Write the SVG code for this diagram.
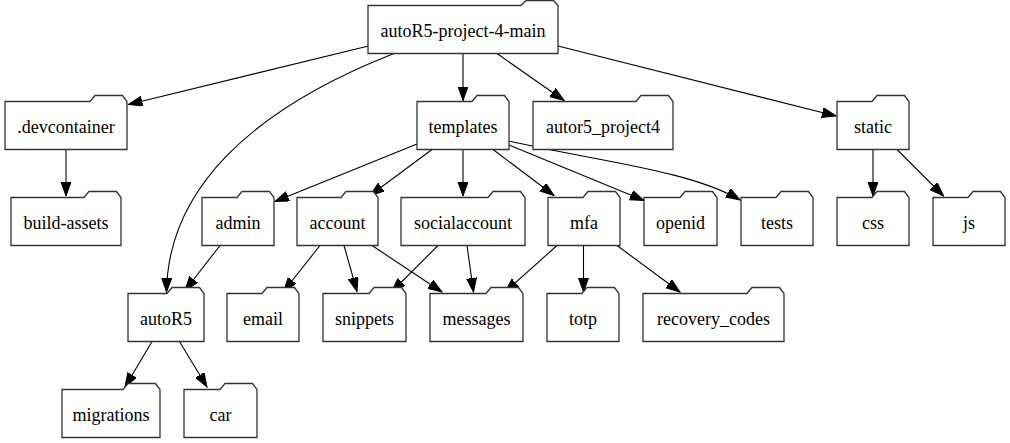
<svg xmlns="http://www.w3.org/2000/svg" width="1010" height="443" viewBox="0 0 1010 443" font-family="'Liberation Serif', 'DejaVu Serif', serif">
<style>
.n path{fill:#fff;stroke:#333;stroke-width:1.3}
.n text{font-family:'Liberation Serif','Times New Roman',Times,serif;font-size:18px;fill:#000;text-anchor:middle}
#edges path{fill:none;stroke:#000;stroke-width:1.1;marker-end:url(#ah)}
</style>
<defs>
<marker id="ah" markerUnits="userSpaceOnUse" markerWidth="15" markerHeight="11" refX="14" refY="5" orient="auto" viewBox="0 0 15 11">
<path d="M0,0 L14,5 L0,10 Z" fill="#000" stroke="#000" stroke-width="1"/>
</marker>
</defs>
<rect width="1010" height="443" fill="#fff"/>
<g id="edges">
<path d="M368.5,46 L128.5,104.5"/>
<path d="M394,53.5 C250,110 168,190 166.5,292"/>
<path d="M463,53.5 L463,100.5"/>
<path d="M497,53.5 L564,100.5"/>
<path d="M558,46 L836,116"/>
<path d="M66,149.5 L66,196"/>
<path d="M417,144 L275,201.5"/>
<path d="M432,149.5 L370,195.5"/>
<path d="M463,149.5 L463,196"/>
<path d="M493,149.5 L554,195.5"/>
<path d="M509,145 L644,200.5"/>
<path d="M509,141 C590,160 690,170 740,200"/>
<path d="M220,245.5 L185,290.5"/>
<path d="M320,245.5 L283.5,291.5"/>
<path d="M344,245.5 L357,291.5"/>
<path d="M372,245.5 L442,292"/>
<path d="M438,245.5 L391.5,292"/>
<path d="M467,245.5 L473.5,292"/>
<path d="M557,245.5 L505,292"/>
<path d="M583.5,245.5 L583.5,292"/>
<path d="M617,245.5 L680,292"/>
<path d="M873,149.5 L873,196"/>
<path d="M897,149.5 L943.5,196"/>
<path d="M152,341.5 L125,387"/>
<path d="M179.5,341.5 L207,387"/>
</g>
<g id="root" class="n"><path d="M368,5.5 L521,5.5 L526,0.5 L553.5,0.5 L558,5.5 L558,53.5 L368,53.5 Z"/><text x="463" y="37">autoR5-project-4-main</text></g>
<g id="devcontainer" class="n"><path d="M5,101.5 L90,101.5 L95,95.5 L122.5,95.5 L127,101.5 L127,149.5 L5,149.5 Z"/><text x="66" y="133">.devcontainer</text></g>
<g id="templates" class="n"><path d="M417,101.5 L472,101.5 L477,95.5 L504.5,95.5 L509,101.5 L509,149.5 L417,149.5 Z"/><text x="463" y="133">templates</text></g>
<g id="autor5_project4" class="n"><path d="M533,101.5 L636,101.5 L641,95.5 L668.5,95.5 L673,101.5 L673,149.5 L533,149.5 Z"/><text x="603" y="133">autor5_project4</text></g>
<g id="static" class="n"><path d="M837,101.5 L872,101.5 L877,95.5 L904.5,95.5 L909,101.5 L909,149.5 L837,149.5 Z"/><text x="873" y="133">static</text></g>
<g id="build-assets" class="n"><path d="M11,197.5 L84,197.5 L89,191.5 L116.5,191.5 L121,197.5 L121,245.5 L11,245.5 Z"/><text x="66" y="229">build-assets</text></g>
<g id="admin" class="n"><path d="M202,197.5 L237,197.5 L242,191.5 L269.5,191.5 L274,197.5 L274,245.5 L202,245.5 Z"/><text x="238" y="229">admin</text></g>
<g id="account" class="n"><path d="M297,197.5 L341,197.5 L346,191.5 L373.5,191.5 L378,197.5 L378,245.5 L297,245.5 Z"/><text x="337.5" y="229">account</text></g>
<g id="socialaccount" class="n"><path d="M401,197.5 L488,197.5 L493,191.5 L520.5,191.5 L525,197.5 L525,245.5 L401,245.5 Z"/><text x="463" y="229">socialaccount</text></g>
<g id="mfa" class="n"><path d="M548,197.5 L583,197.5 L588,191.5 L615.5,191.5 L620,197.5 L620,245.5 L548,245.5 Z"/><text x="584" y="229">mfa</text></g>
<g id="openid" class="n"><path d="M644,197.5 L680,197.5 L685,191.5 L712.5,191.5 L717,197.5 L717,245.5 L644,245.5 Z"/><text x="680.5" y="229">openid</text></g>
<g id="tests" class="n"><path d="M741,197.5 L776,197.5 L781,191.5 L808.5,191.5 L813,197.5 L813,245.5 L741,245.5 Z"/><text x="777" y="229">tests</text></g>
<g id="css" class="n"><path d="M837,197.5 L872,197.5 L877,191.5 L904.5,191.5 L909,197.5 L909,245.5 L837,245.5 Z"/><text x="873" y="229">css</text></g>
<g id="js" class="n"><path d="M933,197.5 L968,197.5 L973,191.5 L1000.5,191.5 L1005,197.5 L1005,245.5 L933,245.5 Z"/><text x="969" y="229">js</text></g>
<g id="autoR5" class="n"><path d="M128,293.5 L167,293.5 L172,287.5 L199.5,287.5 L204,293.5 L204,341.5 L128,341.5 Z"/><text x="166" y="325">autoR5</text></g>
<g id="email" class="n"><path d="M227,293.5 L262,293.5 L267,287.5 L294.5,287.5 L299,293.5 L299,341.5 L227,341.5 Z"/><text x="263" y="325">email</text></g>
<g id="snippets" class="n"><path d="M323,293.5 L369,293.5 L374,287.5 L401.5,287.5 L406,293.5 L406,341.5 L323,341.5 Z"/><text x="364.5" y="325">snippets</text></g>
<g id="messages" class="n"><path d="M430,293.5 L486,293.5 L491,287.5 L518.5,287.5 L523,293.5 L523,341.5 L430,341.5 Z"/><text x="476.5" y="325">messages</text></g>
<g id="totp" class="n"><path d="M547,293.5 L582,293.5 L587,287.5 L614.5,287.5 L619,293.5 L619,341.5 L547,341.5 Z"/><text x="583" y="325">totp</text></g>
<g id="recovery_codes" class="n"><path d="M643,293.5 L747,293.5 L752,287.5 L779.5,287.5 L784,293.5 L784,341.5 L643,341.5 Z"/><text x="713.5" y="325">recovery_codes</text></g>
<g id="migrations" class="n"><path d="M62,389.5 L123,389.5 L128,383.5 L155.5,383.5 L160,389.5 L160,437.5 L62,437.5 Z"/><text x="111" y="421">migrations</text></g>
<g id="car" class="n"><path d="M184,389.5 L220,389.5 L225,383.5 L252.5,383.5 L257,389.5 L257,437.5 L184,437.5 Z"/><text x="220.5" y="421">car</text></g>
</svg>
